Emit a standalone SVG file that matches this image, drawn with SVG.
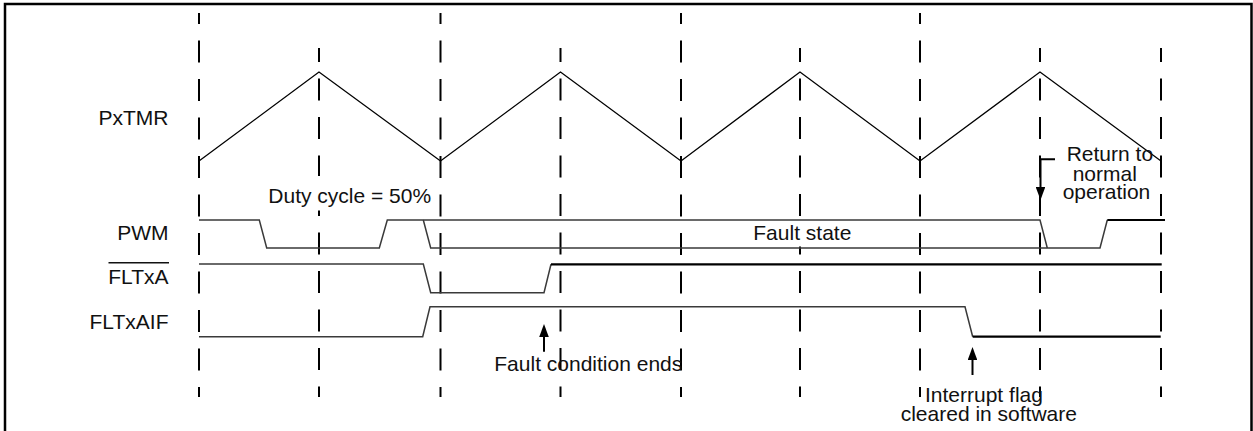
<svg xmlns="http://www.w3.org/2000/svg" width="1253" height="431" viewBox="0 0 1253 431">
<style>
text{font-family:"Liberation Sans",Arial,sans-serif;font-size:21px;fill:#111}
.lbl{text-anchor:end}
.grid line{stroke:#000;stroke-width:2;stroke-dasharray:22 16.5}
.tall{stroke-dashoffset:11}
.short{stroke-dashoffset:8}
.sig{fill:none;stroke:#3a3a3a;stroke-width:1.5}
.sigb{fill:none;stroke:#000;stroke-width:2.2}
.tri{fill:none;stroke:#000;stroke-width:1.3}
.mask{fill:#fff}
.arr{fill:none;stroke:#000;stroke-width:2;marker-end:url(#ah)}
</style>
<defs>
<marker id="ah" viewBox="0 0 13 9.6" refX="0" refY="4.8" markerWidth="13" markerHeight="9.6" markerUnits="userSpaceOnUse" orient="auto">
<path d="M0,0 L13,4.8 L0,9.6 z" fill="#000"/>
</marker>
</defs>
<rect width="1253" height="431" fill="#fff"/>
<rect id="frame" x="5" y="4" width="1246.5" height="440" fill="none" stroke="#000" stroke-width="2.5"/>
<g id="grid" class="grid">
<line class="tall" x1="199" y1="13" x2="199" y2="397"/>
<line class="short" x1="319" y1="48" x2="319" y2="397"/>
<line class="tall" x1="440.5" y1="13" x2="440.5" y2="397"/>
<line class="short" x1="560.5" y1="48" x2="560.5" y2="397"/>
<line class="tall" x1="681" y1="13" x2="681" y2="397"/>
<line class="short" x1="800" y1="48" x2="800" y2="397"/>
<line class="tall" x1="920" y1="13" x2="920" y2="397"/>
<line class="short" x1="1040" y1="48" x2="1040" y2="397"/>
<line class="short" x1="1161" y1="48" x2="1161" y2="397"/>
</g>
<g id="masks">
<rect class="mask" x="262" y="176" width="176" height="34.5"/>
<rect class="mask" x="748" y="222" width="109" height="24.5"/>
<rect class="mask" x="1059" y="144" width="96" height="60"/>
</g>
<g id="labels">
<text class="lbl" x="168.5" y="125">PxTMR</text>
<text class="lbl" x="168.5" y="240">PWM</text>
<text class="lbl" x="168.5" y="284">FLTxA</text>
<line x1="108.5" y1="262.7" x2="169" y2="262.7" stroke="#111" stroke-width="1.5"/>
<text class="lbl" x="168.5" y="329">FLTxAIF</text>
</g>
<g id="PxTMR">
<polyline class="tri" points="199,161 319,72 440.5,161 560.5,72 681,161 800,72 920,161 1040,72 1161,161"/>
</g>
<g id="PWM">
<path class="sig" d="M199,220 H259.3 L266.7,248 H379.3 L387.3,220 H1040 L1047.3,248"/>
<path class="sig" d="M423.3,220 L430.7,248 H1100 L1107.3,220"/>
<path class="sigb" d="M1107.3,220 H1165"/>
</g>
<g id="FLTxA">
<path class="sig" d="M199,264 H423.3 L430.7,292.7 H544 L551,264.3"/>
<path class="sigb" d="M551,264.3 H1161.7"/>
</g>
<g id="FLTxAIF">
<path class="sig" d="M199,336.7 H422.7 L430,306.7 H965 L972.7,336.7"/>
<path class="sigb" d="M972.7,336.7 H1160.7"/>
</g>
<g id="annotations">
<text x="268.3" y="203.3">Duty cycle = 50%</text>
<text x="753.3" y="240">Fault state</text>
<text x="494.3" y="370.7">Fault condition ends</text>
<text x="1066.7" y="161.3">Return to</text>
<text x="1072.7" y="180.5">normal</text>
<text x="1062.7" y="199.3">operation</text>
<text x="925" y="402.3">Interrupt flag</text>
<text x="900.7" y="420.7">cleared in software</text>
</g>
<g id="connectors">
<path class="arr" d="M544,351.7 V337"/>
<path class="arr" d="M972.5,375 V360"/>
<path class="arr" d="M1055,159.3 H1040.5 V187"/>
</g>
</svg>
